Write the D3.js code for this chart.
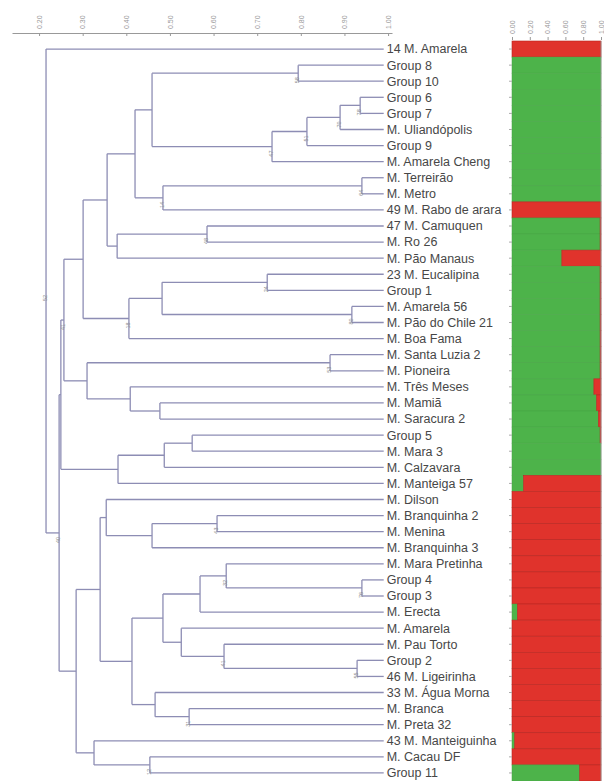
<!DOCTYPE html>
<html>
<head>
<meta charset="utf-8">
<script src="https://cdn.jsdelivr.net/npm/d3@7"></script>
<style>
  body { margin: 0; background: #fff; }
  svg { display: block; font-family: "Liberation Sans", Arial, sans-serif; }
</style>
</head>
<body>
<svg id="chart" width="604" height="781"></svg>
<script>
// leaf order, top to bottom
const leaves = [
  "14 M. Amarela", "Group 8", "Group 10", "Group 6", "Group 7", "M. Uliandópolis",
  "Group 9", "M. Amarela Cheng", "M. Terreirão", "M. Metro", "49 M. Rabo de arara",
  "47 M. Camuquen", "M. Ro 26", "M. Pão Manaus", "23 M. Eucalipina", "Group 1",
  "M. Amarela 56", "M. Pão do Chile 21", "M. Boa Fama", "M. Santa Luzia 2", "M. Pioneira",
  "M. Três Meses", "M. Mamiã", "M. Saracura 2", "Group 5", "M. Mara 3", "M. Calzavara",
  "M. Manteiga 57", "M. Dilson", "M. Branquinha 2", "M. Menina", "M. Branquinha 3",
  "M. Mara Pretinha", "Group 4", "Group 3", "M. Erecta", "M. Amarela", "M. Pau Torto",
  "Group 2", "46 M. Ligeirinha", "33 M. Água Morna", "M. Branca", "M. Preta 32",
  "43 M. Manteiguinha", "M. Cacau DF", "Group 11"
];

// share of cluster 1 (green) per leaf, the rest is cluster 2 (red)
const greenShare = [
  0.00, 1.00, 1.00, 1.00, 1.00, 1.00, 1.00, 1.00, 1.00, 1.00, 0.00,
  0.99, 0.99, 0.56, 0.99, 0.99, 0.99, 0.99, 0.99, 0.99, 0.99,
  0.92, 0.95, 0.97, 0.99, 1.00, 1.00, 0.13,
  0.00, 0.00, 0.00, 0.00, 0.00, 0.00, 0.00, 0.06, 0.00, 0.00,
  0.00, 0.00, 0.00, 0.00, 0.00, 0.03, 0.00, 0.76
];

// merges: [id, child a, child b, similarity]
const merges = [
  ["a1", "Group 6", "Group 7", 0.936],
  ["a2", "a1", "M. Uliandópolis", 0.890],
  ["a3", "a2", "Group 9", 0.814],
  ["a4", "a3", "M. Amarela Cheng", 0.734],
  ["a5", "Group 8", "Group 10", 0.794],
  ["a6", "a5", "a4", 0.459],
  ["a7", "M. Terreirão", "M. Metro", 0.940],
  ["a8", "a7", "49 M. Rabo de arara", 0.484],
  ["a9", "a6", "a8", 0.420],
  ["a10", "47 M. Camuquen", "M. Ro 26", 0.585],
  ["a11", "a10", "M. Pão Manaus", 0.379],
  ["a12", "a9", "a11", 0.356],
  ["a13", "23 M. Eucalipina", "Group 1", 0.723],
  ["a14", "M. Amarela 56", "M. Pão do Chile 21", 0.917],
  ["a15", "a13", "a14", 0.482],
  ["a16", "a15", "M. Boa Fama", 0.406],
  ["a17", "a12", "a16", 0.301],
  ["a18", "M. Santa Luzia 2", "M. Pioneira", 0.867],
  ["a19", "M. Mamiã", "M. Saracura 2", 0.477],
  ["a20", "M. Três Meses", "a19", 0.409],
  ["a21", "a18", "a20", 0.310],
  ["a22", "a17", "a21", 0.257],
  ["a23", "Group 5", "M. Mara 3", 0.551],
  ["a24", "a23", "M. Calzavara", 0.487],
  ["a25", "a24", "M. Manteiga 57", 0.381],
  ["a26", "a22", "a25", 0.250],
  ["a27", "M. Branquinha 2", "M. Menina", 0.608],
  ["a28", "a27", "M. Branquinha 3", 0.459],
  ["a29", "M. Dilson", "a28", 0.354],
  ["a30", "Group 4", "Group 3", 0.940],
  ["a31", "M. Mara Pretinha", "a30", 0.629],
  ["a32", "a31", "M. Erecta", 0.569],
  ["a33", "Group 2", "46 M. Ligeirinha", 0.929],
  ["a34", "M. Pau Torto", "a33", 0.624],
  ["a35", "M. Amarela", "a34", 0.526],
  ["a36", "a32", "a35", 0.484],
  ["a37", "M. Branca", "M. Preta 32", 0.544],
  ["a38", "33 M. Água Morna", "a37", 0.466],
  ["a39", "a36", "a38", 0.413],
  ["a40", "a29", "a39", 0.340],
  ["a41", "M. Cacau DF", "Group 11", 0.454],
  ["a42", "43 M. Manteiguinha", "a41", 0.326],
  ["a43", "a40", "a42", 0.285],
  ["a44", "a26", "a43", 0.246],
  ["a45", "14 M. Amarela", "a44", 0.216]
];
const leafHeight = 0.99;

// small node support values (hard to read, estimated)
const support = [
  ["a45", "52"], ["a44", "40"], ["a22", "41"], ["a1", "78"], ["a2", "70"], ["a3", "51"],
  ["a4", "47"], ["a5", "58"], ["a7", "64"], ["a8", "14"], ["a10", "48"], ["a13", "24"],
  ["a14", "80"], ["a16", "18"], ["a18", "53"], ["a27", "43"], ["a30", "76"], ["a31", "32"],
  ["a33", "55"], ["a34", "41"], ["a37", "31"], ["a41", "12"]
];

const treeTicks = [0.2, 0.3, 0.4, 0.5, 0.6, 0.7, 0.8, 0.9, 1.0];
const barTicks = [0, 0.2, 0.4, 0.6, 0.8, 1.0];

const lineColor = "#8d8db4";
const red = "#e0332c", green = "#4db34a";

const svg = d3.select("#chart");

const x = d3.scaleLinear().domain([0.138, 1.009]).range([12, 392]);
const y = d3.scaleBand().domain(leaves).range([41, 781]);
const xb = d3.scaleLinear().domain([0, 1]).range([512, 601]);

// build the tree
const nodes = {};
leaves.forEach(n => nodes[n] = {name: n, h: leafHeight, leaf: true});
merges.forEach(m => {
  nodes[m[0]] = {name: m[0], h: m[3], children: [nodes[m[1]], nodes[m[2]]]};
});
const root = d3.hierarchy(nodes["a45"]);
root.eachAfter(d => {
  d.px = x(d.data.h);
  if (d.data.leaf) d.py = y(d.data.name) + y.bandwidth() / 2;
  else d.py = (d.children[0].py + d.children[1].py) / 2;
});

const g = svg.append("g");

// elbow links
root.descendants().filter(d => d.children).forEach(d => {
  g.append("line")
    .attr("x1", d.px).attr("x2", d.px)
    .attr("y1", d.children[0].py).attr("y2", d.children[1].py)
    .attr("stroke", lineColor).attr("stroke-width", 1.3);
  d.children.forEach(c => {
    g.append("line")
      .attr("x1", d.px).attr("x2", c.px)
      .attr("y1", c.py).attr("y2", c.py)
      .attr("stroke", lineColor).attr("stroke-width", 1.3);
  });
});

// support labels
const byName = {};
root.descendants().forEach(d => byName[d.data.name] = d);
support.forEach(s => {
  const d = byName[s[0]];
  g.append("text")
    .attr("transform", "translate(" + (d.px - 1) + "," + (d.py + 7) + ") rotate(-90)")
    .attr("text-anchor", "middle")
    .attr("dy", "0.35em")
    .attr("font-size", 5.5)
    .attr("fill", "#8a8a8a")
    .text(s[1]);
});

// leaf labels
g.selectAll(".leaf")
  .data(root.leaves())
  .enter().append("text")
    .attr("class", "leaf")
    .attr("x", d => d.px + 3)
    .attr("y", d => d.py)
    .attr("dy", "0.35em")
    .attr("font-size", 12.5)
    .attr("fill", "#474747")
    .text(d => d.data.name);

// tree axis
const ax = svg.append("g")
  .attr("transform", "translate(0,33)")
  .call(d3.axisTop(x).tickValues(treeTicks).tickSizeInner(-3).tickSizeOuter(0).tickFormat(d3.format(".2f")));
ax.select(".domain").attr("stroke", "#999");
ax.selectAll(".tick line").attr("stroke", "#999");
ax.selectAll(".tick text")
  .attr("transform", "rotate(-90)")
  .attr("x", 4).attr("y", 0).attr("dy", "0.32em")
  .attr("text-anchor", "start")
  .attr("font-size", 7)
  .attr("fill", "#999");

// structure bars
const rows = svg.append("g").selectAll("g")
  .data(leaves.map((n, i) => ({name: n, g: greenShare[i]})))
  .enter().append("g");
rows.append("rect")
  .attr("x", xb(0))
  .attr("y", d => y(d.name))
  .attr("width", d => xb(d.g) - xb(0))
  .attr("height", y.bandwidth())
  .attr("fill", green)
  .attr("stroke", "#45a443").attr("stroke-width", 0.5);
rows.append("rect")
  .attr("x", d => xb(d.g))
  .attr("y", d => y(d.name))
  .attr("width", d => xb(1) - xb(d.g))
  .attr("height", y.bandwidth())
  .attr("fill", red)
  .attr("stroke", "#b82620").attr("stroke-width", 0.6);

svg.append("line")
  .attr("x1", xb(1)).attr("x2", xb(1))
  .attr("y1", 41).attr("y2", 781)
  .attr("stroke", "#999").attr("stroke-width", 0.8);

// bar axes
const bx = svg.append("g")
  .attr("transform", "translate(0,40)")
  .call(d3.axisTop(xb).tickValues(barTicks).tickSize(3).tickFormat(d3.format(".2f")));
bx.select(".domain").remove();
bx.selectAll(".tick line").attr("stroke", "#999");
bx.selectAll(".tick text")
  .attr("transform", "rotate(-90)")
  .attr("x", 6).attr("y", 0).attr("dy", "0.32em")
  .attr("text-anchor", "start")
  .attr("font-size", 7)
  .attr("fill", "#999");

const by = svg.append("g")
  .attr("transform", "translate(" + xb(0) + ",0)")
  .call(d3.axisLeft(y).tickSize(3).tickFormat(""));
by.select(".domain").remove();
by.selectAll(".tick line").attr("stroke", "#aaa");
</script>
</body>
</html>
